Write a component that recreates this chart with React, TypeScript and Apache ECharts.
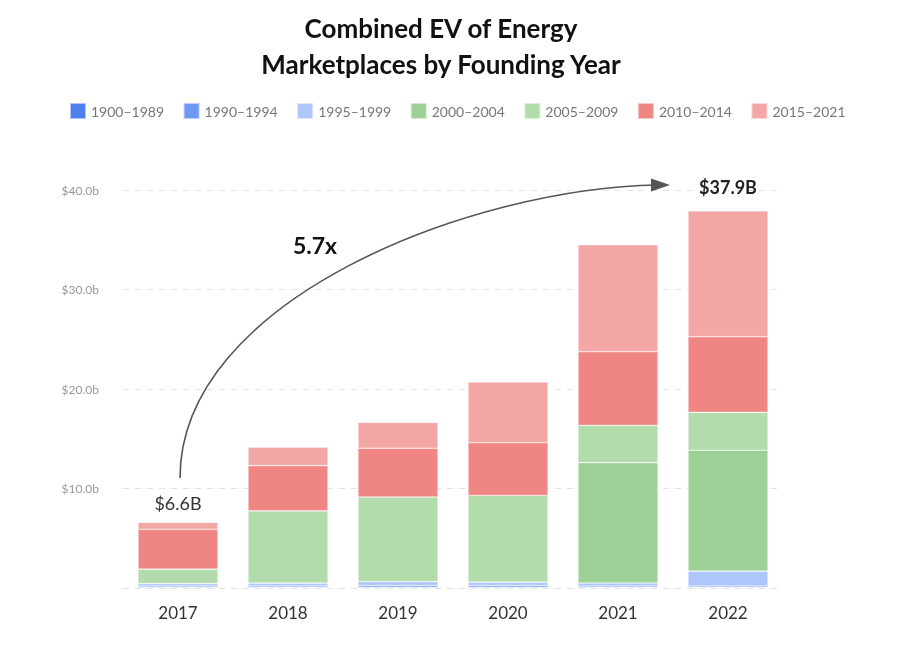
import React, { useEffect, useRef } from "react";
import * as echarts from "echarts";

const categories = ["2017", "2018", "2019", "2020", "2021", "2022"];
const seriesNames = ["1900–1989", "1990–1994", "1995–1999", "2000–2004", "2005–2009", "2010–2014", "2015–2021"];
const s1900_1989 = [0.08, 0.08, 0.08, 0.08, 0.08, 0.08];
const s1990_1994 = [0.12, 0.12, 0.17, 0.17, 0.12, 0.12];
const s1995_1999 = [0.25, 0.3, 0.4, 0.35, 0.3, 1.5];
const s2000_2004 = [0, 0, 0, 0, 12.1, 12.15];
const s2005_2009 = [1.45, 7.25, 8.5, 8.7, 3.75, 3.8];
const s2010_2014 = [4.0, 4.55, 4.9, 5.3, 7.4, 7.6];
const s2015_2021 = [0.7, 1.85, 2.6, 6.1, 10.75, 12.65];
const colors = ["#4f80f0", "#6f98f4", "#aec6fa", "#9dd096", "#b2dcac", "#ef8683", "#f2a7a5"];
const multiplierText = "5.7x";
const yTicks = [0, 10, 20, 30, 40];

const FONT = "Lato, 'Noto Sans', sans-serif";

export default function App() {
  const ref = useRef<HTMLDivElement>(null);
  useEffect(() => {
    if (!ref.current) return;
    const chart = echarts.init(ref.current, null, { renderer: "svg" });
    const all = [s1900_1989, s1990_1994, s1995_1999, s2000_2004, s2005_2009, s2010_2014, s2015_2021];
    const totals = categories.map((_, i) => all.reduce((a, s) => a + s[i], 0));
    const last = categories.length - 1;
    const series: any[] = all.map((vals, si) => {
      const isTop = si === all.length - 1;
      return {
        name: seriesNames[si],
        type: "bar",
        stack: "total",
        barWidth: 80,
        itemStyle: { color: colors[si], borderColor: "rgba(255,255,255,0.55)", borderWidth: 0.6 },
        data: vals.map((v, i) => {
          if (isTop && (i === 0 || i === last)) {
            const bold = i === last;
            return {
              value: v,
              label: {
                show: true,
                position: "top",
                distance: bold ? 15 : 10,
                formatter: "$" + totals[i].toFixed(1) + "B",
                fontFamily: FONT,
                fontSize: 18,
                fontWeight: bold ? "bold" : "normal",
                color: bold ? "#222" : "#333",
              },
            };
          }
          return v;
        }),
      };
    });
    chart.setOption({
      animation: false,
      textStyle: { fontFamily: FONT },
      title: {
        text: "Combined EV of Energy\nMarketplaces by Founding Year",
        left: 436,
        textAlign: "center",
        top: 5,
        textStyle: { fontFamily: FONT, fontSize: 26, fontWeight: "bold", color: "#111", lineHeight: 36 },
      },
      legend: {
        top: 97,
        left: 64,
        itemWidth: 16,
        itemHeight: 16,
        itemGap: 18.5,
        icon: "rect",
        data: seriesNames,
        textStyle: { fontFamily: FONT, fontSize: 14, color: "#777" },
      },
      grid: { left: 123, right: 117, top: 190, bottom: 61, containLabel: false },
      xAxis: {
        type: "category",
        data: categories,
        axisLine: { show: false },
        axisTick: { show: false },
        axisLabel: { fontFamily: FONT, fontSize: 17, color: "#333", margin: 16 },
      },
      yAxis: {
        type: "value",
        min: yTicks[0],
        max: yTicks[yTicks.length - 1],
        interval: 10,
        axisLine: { show: false },
        axisTick: { show: false },
        splitLine: { lineStyle: { type: [6, 6], color: "#e3e3e3" } },
        axisLabel: {
          fontFamily: FONT,
          fontSize: 12,
          color: "#999",
          margin: 24,
          formatter: (v: number) => (v === 0 ? "" : "$" + v.toFixed(1) + "b"),
        },
      },
      graphic: [
        {
          type: "bezierCurve",
          shape: { x1: 180, y1: 478, cpx1: 180, cpy1: 300, cpx2: 470, cpy2: 188, x2: 658, y2: 185 },
          style: { stroke: "#555", lineWidth: 1.6, fill: "none" },
          z: 100,
        },
        {
          type: "polygon",
          shape: { points: [[670, 185], [651, 178.5], [651, 191.5]] },
          style: { fill: "#555" },
          z: 100,
        },
        {
          type: "text",
          x: 315,
          y: 245,
          style: {
            text: multiplierText,
            fontFamily: FONT,
            fontSize: 23,
            fontWeight: "bold",
            fill: "#111",
            align: "center",
            verticalAlign: "middle",
          },
          z: 100,
        },
      ],
      series,
    });
    return () => chart.dispose();
  }, []);
  return <div ref={ref} style={{ position: "fixed", left: 0, top: 0, width: 900, height: 649 }} />;
}
